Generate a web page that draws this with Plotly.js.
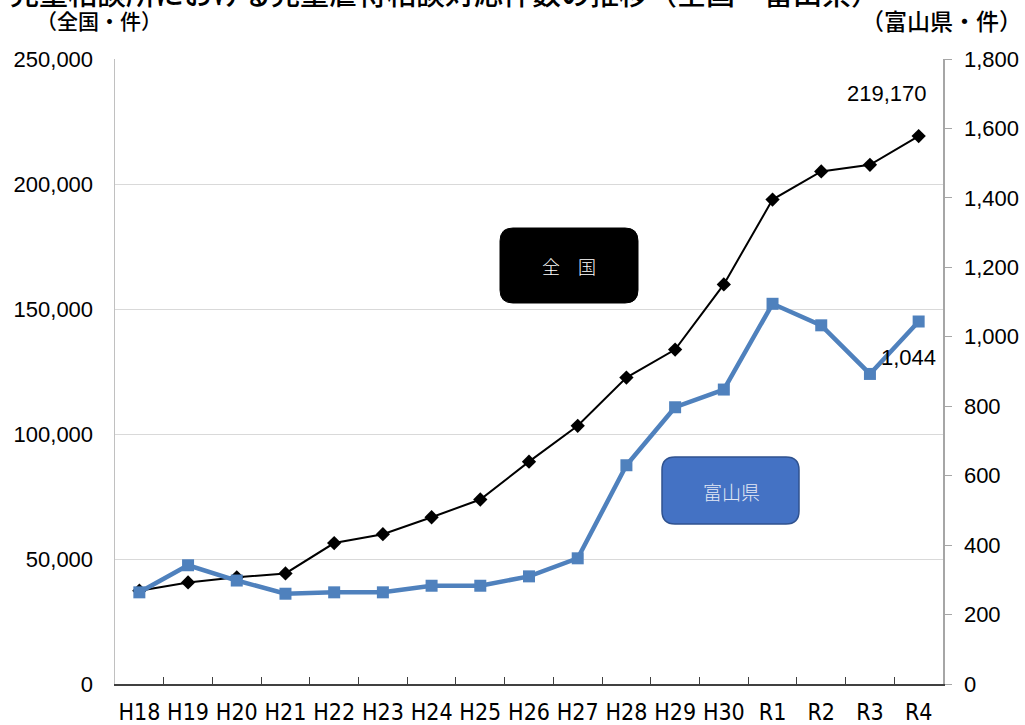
<!DOCTYPE html>
<html>
<head>
<meta charset="utf-8">
<script src="https://cdn.plot.ly/plotly-3.0.1.min.js"></script>
<style>
html,body{margin:0;padding:0;background:#fff;}
#chart{width:1025px;height:725px;}
</style>
</head>
<body>
<div id="chart"></div>
<script>
// ---- data ----
const years = ["H18","H19","H20","H21","H22","H23","H24","H25","H26","H27","H28","H29","H30","R1","R2","R3","R4"];
const national = [37323,40639,42664,44211,56384,59919,66701,73802,88931,103286,122575,133778,159838,193780,205044,207660,219170];
const toyama = [264,342,298,260,264,264,283,283,310,362,630,797,848,1095,1033,893,1044];
const nationalName = "全　国";
const toyamaName = "富山県";
const leftUnit = "（全国・件）";
const rightUnit = "（富山県・件）";
const chartTitle = "児童相談所における児童虐待相談対応件数の推移（全国・富山県）";

// ---- helpers for decorative rounded boxes (paper coords) ----
const L=115, R=943, T=59, B=684;
function px2x(p){return (p-L)/(R-L);}
function px2y(p){return (B-p)/(B-T);}
function roundRect(x0,y0,x1,y1,r){
  const a=px2x(x0), b=px2x(x1), c=px2y(y0), d=px2y(y1);
  const rx=r/(R-L), ry=r/(B-T);
  return `M ${a+rx} ${c} L ${b-rx} ${c} Q ${b} ${c} ${b} ${c-ry} L ${b} ${d+ry} Q ${b} ${d} ${b-rx} ${d} L ${a+rx} ${d} Q ${a} ${d} ${a} ${d+ry} L ${a} ${c-ry} Q ${a} ${c} ${a+rx} ${c} Z`;
}

const numFont = "Liberation Sans, Arial, sans-serif";
const jpFont = "Noto Sans CJK JP, sans-serif";

const traces = [
  {
    x: years, y: national, name: nationalName, type: "scatter", mode: "lines+markers",
    line: {color: "#000000", width: 2},
    marker: {symbol: "diamond", size: 11, color: "#000000"},
    yaxis: "y", cliponaxis: false
  },
  {
    x: years, y: toyama, name: toyamaName, type: "scatter", mode: "lines+markers",
    line: {color: "#4f81bd", width: 4.5},
    marker: {symbol: "square", size: 12, color: "#4f81bd"},
    yaxis: "y2", cliponaxis: false
  }
];

function ann(xp, yp, text, font){
  return {xref: "paper", yref: "paper", x: px2x(xp), y: px2y(yp), text: text, showarrow: false,
          xanchor: "center", yanchor: "middle", font: font};
}

const layout = {
  width: 1025, height: 725,
  paper_bgcolor: "#ffffff", plot_bgcolor: "#ffffff",
  showlegend: false,
  margin: {l: L, r: 1025-R, t: T, b: 725-B, pad: 0},
  xaxis: {
    type: "category", range: [-0.5, years.length-0.5], autorange: false,
    showline: true, linecolor: "#404040", linewidth: 1.5,
    ticks: "inside", tickson: "boundaries", ticklen: 7, tickcolor: "#404040",
    showgrid: false, zeroline: false, tickangle: 0,
    tickfont: {family: "DejaVu Sans Condensed, Liberation Sans Narrow, Arial Narrow, sans-serif", size: 23, color: "#000"},
    ticklabelstandoff: 7
  },
  yaxis: {
    range: [0, 250000], dtick: 50000, tickformat: ",d",
    showline: true, linecolor: "#c0c0c0", linewidth: 1.5,
    showgrid: true, gridcolor: "#d9d9d9", gridwidth: 1,
    zeroline: false, ticks: "",
    tickfont: {family: numFont, size: 22, color: "#000"},
    ticklabelstandoff: 16
  },
  yaxis2: {
    overlaying: "y", side: "right",
    range: [0, 1800], dtick: 200, tickformat: ",d",
    showline: true, linecolor: "#a6a6a6", linewidth: 1.5,
    showgrid: false, zeroline: false,
    ticks: "outside", ticklen: 7, tickcolor: "#a6a6a6",
    tickfont: {family: numFont, size: 22, color: "#000"},
    ticklabelstandoff: 8
  },
  shapes: [
    {type: "path", xref: "paper", yref: "paper", path: roundRect(500,228,638,303,13),
     fillcolor: "#000000", line: {color: "#000000", width: 1}},
    {type: "path", xref: "paper", yref: "paper", path: roundRect(662,457,799,524,13),
     fillcolor: "#4472c4", line: {color: "#2f528f", width: 1.5}}
  ],
  annotations: [
    ann(569, 266, nationalName, {family: jpFont, size: 18, color: "#ffffff", weight: 300}),
    ann(731, 491, toyamaName, {family: jpFont, size: 19, color: "#e4e9f5", weight: 300}),
    {xref: "x", yref: "y", x: years[years.length-1], y: national[national.length-1],
     text: national[national.length-1].toLocaleString("en-US"), showarrow: false,
     xanchor: "center", yanchor: "middle",
     xshift: -32, yshift: 43, font: {family: numFont, size: 22, color: "#000"}},
    {xref: "x", yref: "y2", x: years[years.length-1], y: toyama[toyama.length-1],
     text: toyama[toyama.length-1].toLocaleString("en-US"), showarrow: false,
     xanchor: "center", yanchor: "middle",
     xshift: -10, yshift: -36, font: {family: numFont, size: 22, color: "#000"}},
    ann(99, 20, leftUnit, {family: jpFont, size: 21, color: "#000", weight: 500}),
    ann(941, 20, rightUnit, {family: jpFont, size: 23, color: "#000", weight: 500}),
    ann(445, -8, chartTitle, {family: jpFont, size: 29, color: "#000", weight: 500})
  ]
};

Plotly.newPlot("chart", traces, layout, {displayModeBar: false, staticPlot: true});
</script>
</body>
</html>
